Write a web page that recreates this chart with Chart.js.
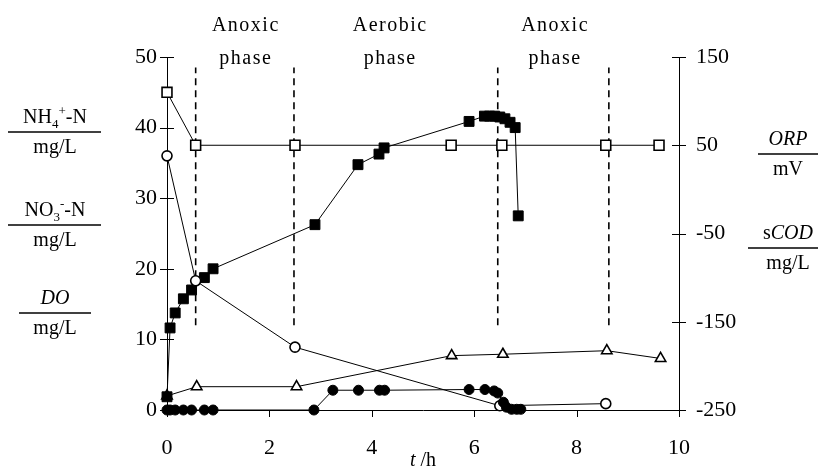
<!DOCTYPE html>
<html>
<head>
<meta charset="utf-8">
<script src="https://cdn.jsdelivr.net/npm/chart.js@4"></script>
<style>
  body { margin: 0; background: #fff; }
</style>
</head>
<body>
<canvas id="myChart" width="818" height="468"></canvas>
<script>
var serif = "'Liberation Serif', 'Times New Roman', serif";

// time (h) and readings per series
var tDo   = [0, 0.06, 0.16, 0.32, 0.48, 0.73, 0.9, 2.87, 3.24, 3.74, 4.15, 4.25, 5.9, 6.21, 6.39, 6.46, 6.57, 6.63, 6.73, 6.83, 6.91];
var doVal = [0, 0, 0, 0, 0, 0, 0, 0, 2.8, 2.8, 2.8, 2.8, 2.9, 2.9, 2.7, 2.4, 1.1, 0.4, 0.1, 0.1, 0.1];

var tNh4   = [0, 0.56, 2.5, 6.5, 8.57];
var nh4Val = [36, 18.3, 8.9, 0.6, 0.9];

var tNo3   = [0, 0.58, 2.53, 5.56, 6.56, 8.59, 9.64];
var no3Val = [2, 3.3, 3.3, 7.7, 7.9, 8.4, 7.3];

var tOrp   = [0, 0.06, 0.16, 0.32, 0.48, 0.73, 0.9, 2.89, 3.73, 4.14, 4.24, 5.9, 6.2, 6.3, 6.4, 6.5, 6.6, 6.7, 6.8, 6.86];
var orpVal = [-235, -157, -140, -124, -114, -100, -90, -40, 28, 40, 47, 77, 83, 83, 83, 82, 80, 76, 70, -30];

var tCod   = [0, 0.56, 2.5, 5.55, 6.54, 8.57, 9.61];
var codVal = [110, 50, 50, 50, 50, 50, 50];

// phase switches and the text between them
var phaseBounds  = [0.56, 2.48, 6.46, 8.63];
var dashRange    = [12, 48.5];
var phaseCenters = [1.54, 4.36, 7.58];
var phaseNames   = ['Anoxic', 'Aerobic', 'Anoxic'];

function pts(xs, ys) {
  return xs.map(function (t, i) { return { x: t, y: ys[i] }; });
}

function series(xs, ys, axis, style, filled, r) {
  return {
    data: pts(xs, ys),
    yAxisID: axis,
    showLine: true,
    clip: false,
    borderColor: '#000',
    borderWidth: 1,
    pointStyle: style,
    pointRadius: r,
    pointBorderColor: '#000',
    pointBorderWidth: filled ? 1 : 1.6,
    pointBackgroundColor: filled ? '#000' : '#fff'
  };
}

var datasets = [
  series(tDo, doVal, 'y', 'circle', true, 5),
  series(tNh4, nh4Val, 'y', 'circle', false, 5),
  series(tOrp, orpVal, 'y1', 'rect', true, 7),
  series(tNo3, no3Val, 'y', 'triangle', false, 6),
  series(tCod, codVal, 'y1', 'rect', false, 7)
];
phaseBounds.forEach(function (b) {
  datasets.push({
    data: [{ x: b, y: dashRange[0] }, { x: b, y: dashRange[1] }],
    yAxisID: 'y',
    showLine: true,
    borderColor: '#000',
    borderWidth: 1.6,
    borderDash: [7, 5],
    pointRadius: 0
  });
});

// text with sub/superscripts and italics, centred on cx
function richParts(ctx, parts) {
  return parts.map(function (p) {
    var kind = p[1];
    var font = kind === 'i' ? 'italic 20px ' + serif : (kind === 'sub' || kind === 'sup') ? '13px ' + serif : '20px ' + serif;
    ctx.font = font;
    return { text: p[0], font: font, dy: kind === 'sub' ? 5 : kind === 'sup' ? -8 : 0, w: ctx.measureText(p[0]).width };
  });
}
function drawRich(ctx, parts, cx, base) {
  var items = richParts(ctx, parts);
  var total = items.reduce(function (s, it) { return s + it.w; }, 0);
  var x = cx - total / 2;
  ctx.textAlign = 'left';
  ctx.textBaseline = 'alphabetic';
  items.forEach(function (it) {
    ctx.font = it.font;
    ctx.fillText(it.text, x, base + it.dy);
    x += it.w;
  });
}
function fraction(ctx, top, bottom, cx, lineY, x1, x2) {
  drawRich(ctx, top, cx, lineY - 9);
  drawRich(ctx, bottom, cx, lineY + 21);
  ctx.beginPath();
  ctx.lineWidth = 1.5;
  ctx.moveTo(x1, lineY);
  ctx.lineTo(x2, lineY);
  ctx.stroke();
}

var decor = {
  id: 'decor',
  afterDraw: function (chart) {
    var ctx = chart.ctx;
    var a = chart.chartArea;
    var sx = chart.scales.x, sy = chart.scales.y, sy1 = chart.scales.y1;
    ctx.save();
    ctx.strokeStyle = '#000';
    ctx.fillStyle = '#000';
    ctx.lineWidth = 1;

    // tick marks: crossing on the value axes, downward on time
    ctx.beginPath();
    sy.ticks.forEach(function (t) {
      var py = Math.round(sy.getPixelForValue(t.value)) + 0.5;
      ctx.moveTo(a.left - 7, py); ctx.lineTo(a.left + 7, py);
    });
    sy1.ticks.forEach(function (t) {
      var py = Math.round(sy1.getPixelForValue(t.value)) + 0.5;
      ctx.moveTo(a.right - 7, py); ctx.lineTo(a.right + 7, py);
    });
    sx.ticks.forEach(function (t) {
      var px = Math.round(sx.getPixelForValue(t.value)) + 0.5;
      ctx.moveTo(px, a.bottom); ctx.lineTo(px, a.bottom + 7);
    });
    ctx.stroke();

    // phase names
    ctx.textAlign = 'center';
    ctx.textBaseline = 'alphabetic';
    ctx.font = '20px ' + serif;
    ctx.letterSpacing = '1.5px';
    phaseCenters.forEach(function (c, i) {
      var px = sx.getPixelForValue(c);
      ctx.fillText(phaseNames[i], px, 31);
      ctx.fillText('phase', px, 64);
    });
    ctx.letterSpacing = '0px';

    // time axis title
    drawRich(ctx, [['t', 'i'], [' /h', '']], (a.left + a.right) / 2, 466);

    // axis captions
    fraction(ctx, [['NH', ''], ['4', 'sub'], ['+', 'sup'], ['-N', '']], [['mg/L', '']], 55, 132, 8, 101);
    fraction(ctx, [['NO', ''], ['3', 'sub'], ['-', 'sup'], ['-N', '']], [['mg/L', '']], 55, 225, 8, 101);
    fraction(ctx, [['DO', 'i']], [['mg/L', '']], 55, 313, 19, 91);
    fraction(ctx, [['ORP', 'i']], [['mV', '']], 788, 154, 758, 818);
    fraction(ctx, [['s', ''], ['COD', 'i']], [['mg/L', '']], 788, 248, 748, 818);
    ctx.restore();
  }
};

var tickFont = { family: serif, size: 22 };
var noGrid = { display: false, drawTicks: false };

var ctx = document.getElementById('myChart');
var myChart = new Chart(ctx, {
  type: 'scatter',
  data: { datasets: datasets },
  options: {
    responsive: false,
    animation: false,
    events: [],
    layout: { padding: { top: 57, left: 0, right: 0, bottom: 0 } },
    plugins: { legend: { display: false }, tooltip: { enabled: false } },
    scales: {
      x: {
        type: 'linear', min: 0, max: 10,
        ticks: { stepSize: 2, font: tickFont, color: '#000', padding: 25 },
        grid: noGrid,
        border: { color: '#000', width: 1 },
        afterFit: function (s) { s.height = 58; }
      },
      y: {
        position: 'left', min: 0, max: 50,
        ticks: { stepSize: 10, font: tickFont, color: '#000', padding: 10 },
        grid: noGrid,
        border: { color: '#000', width: 1 },
        afterFit: function (s) { s.width = 167; }
      },
      y1: {
        position: 'right', min: -250, max: 150,
        ticks: { stepSize: 100, font: tickFont, color: '#000', padding: 17 },
        grid: noGrid,
        border: { color: '#000', width: 1 },
        afterFit: function (s) { s.width = 139; }
      }
    }
  },
  plugins: [decor]
});
</script>
</body>
</html>
